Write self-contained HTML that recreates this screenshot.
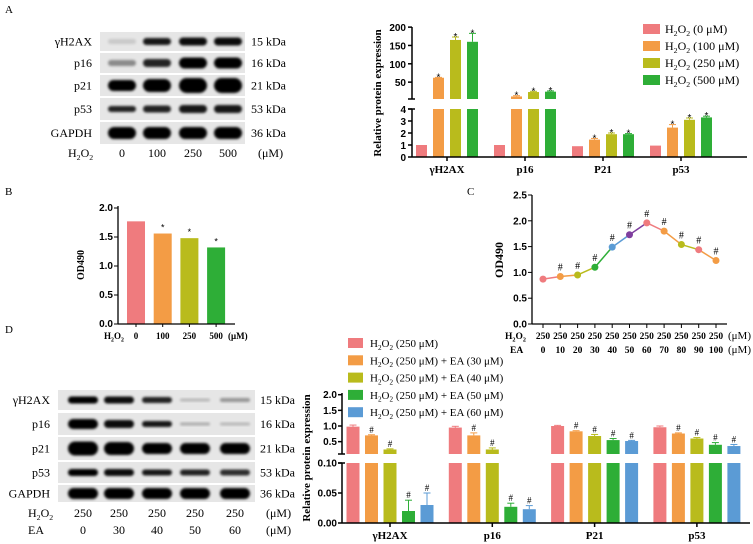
<!DOCTYPE html>
<html><head><meta charset="utf-8"><style>
body{margin:0;background:#fff;}
svg{display:block;}
.serif{font-family:"Liberation Serif",serif;}
.tick{font-family:"Liberation Sans",sans-serif;font-weight:bold;font-size:10px;}
</style></head><body>
<svg id="fig" width="753" height="544" viewBox="0 0 753 544" xmlns="http://www.w3.org/2000/svg">
<defs><filter id="blur" x="-20%" y="-50%" width="140%" height="200%"><feGaussianBlur stdDeviation="1.3"/></filter></defs>
<text x="5" y="13" class="serif" font-size="11">A</text>
<text x="5" y="195" class="serif" font-size="11">B</text>
<text x="467" y="195" class="serif" font-size="11">C</text>
<text x="5" y="333" class="serif" font-size="11">D</text>
</svg>
<script>
const NS='http://www.w3.org/2000/svg';
const svg=document.getElementById('fig');
const COL=['#ef7b7e','#f39c45','#b9bb1c','#2eae37','#5b9bd5','#7f3f9f'];

// ---------- data ----------
const catsA=['γH2AX','p16','P21','p53'];
const aH0=[1,1,0.9,0.95];
const aH100=[62,11,1.45,2.45];
const aH250=[165,23,1.9,3.1];
const aH500=[160,24,1.9,3.3];
const aErr100=[1,2,0.1,0.25];
const aErr250=[8,2,0.1,0.15];
const aErr500=[23,2,0.05,0.1];
const ticksAlow=[0,1,2,3,4];
const ticksAup=[50,100,150,200];

const catsB=['0','100','250','500'];
const valsB=[1.77,1.56,1.48,1.32];
const ticksB=[0,0.5,1.0,1.5,2.0];

const h2o2C=['250','250','250','250','250','250','250','250','250','250','250'];
const eaC=['0','10','20','30','40','50','60','70','80','90','100'];
const valsC=[0.87,0.92,0.95,1.1,1.49,1.73,1.96,1.8,1.54,1.44,1.23];
const ticksC=[0,0.5,1.0,1.5,2.0,2.5];

const catsD=['γH2AX','p16','P21','p53'];
const dEA0=[0.98,0.95,1.0,0.96];
const dEA30=[0.7,0.7,0.83,0.76];
const dEA40=[0.25,0.25,0.68,0.6];
const dEA50=[0.02,0.027,0.55,0.4];
const dEA60=[0.03,0.023,0.52,0.36];
const dErr0=[0.05,0.04,0.02,0.04];
const dErr30=[0.02,0.08,0.02,0.02];
const dErr40=[0.02,0.05,0.05,0.03];
const dErr50=[0.018,0.006,0.05,0.07];
const dErr60=[0.02,0.006,0.02,0.05];
const ticksDup=[0.5,1.0,1.5,2.0];
const ticksDlow=[0,0.05,0.10];

function mk(parent,tag,attrs,name,inter){
  const el=document.createElementNS(NS,tag);
  for(const k in attrs) el.setAttribute(k,attrs[k]);
  
  
  parent.appendChild(el);return el;
}
function txt(parent,x,y,s,attrs,name){const t=mk(parent,'text',Object.assign({x:x,y:y},attrs),name);t.textContent=s;return t;}
function h2o2(parent,x,y,suffix,fs,anchor,name,bold){
  const t=mk(parent,'text',{x:x,y:y,'font-size':fs,'text-anchor':anchor||'start','class':'serif','font-weight':bold?'bold':'normal'},name);
  t.appendChild(document.createTextNode('H'));
  const s1=document.createElementNS(NS,'tspan');s1.setAttribute('font-size',fs*0.65);s1.setAttribute('dy',fs*0.25);s1.textContent='2';t.appendChild(s1);
  const s2=document.createElementNS(NS,'tspan');s2.setAttribute('dy',-fs*0.25);s2.textContent='O';t.appendChild(s2);
  const s3=document.createElementNS(NS,'tspan');s3.setAttribute('font-size',fs*0.65);s3.setAttribute('dy',fs*0.25);s3.textContent='2';t.appendChild(s3);
  const s4=document.createElementNS(NS,'tspan');s4.setAttribute('dy',-fs*0.25);s4.textContent=suffix;t.appendChild(s4);
  return t;
}
function line(p,x1,y1,x2,y2,name,w){return mk(p,'line',{x1:x1,y1:y1,x2:x2,y2:y2,stroke:'#000','stroke-width':w||1.5},name);}

// ---------- blots ----------
function blot(g,rows,lanes,x0,x1,bw,name){
  rows.forEach((r,ri)=>{
    mk(g,'rect',{x:x0,y:r.y0,width:x1-x0,height:r.y1-r.y0,fill:'#e6e6e6'},name+'-row-'+r.label);
    const cy=(r.y0+r.y1)/2;
    lanes.forEach((lx,li)=>{
      const h=r.h[li];
      mk(g,'rect',{x:lx-bw/2,y:cy-h/2,width:bw,height:h,rx:h/2,fill:'#000',opacity:r.op[li],filter:'url(#blur)'},name+'-band');
    });
  });
}
const gBA=mk(svg,'g',{},'blot-a');
const rowsA=[
 {label:'γH2AX',kd:'15 kDa',y0:32,y1:51,h:[5,7,8,8],op:[0.12,0.9,0.95,0.95]},
 {label:'p16',kd:'16 kDa',y0:53,y1:73,h:[6,8,11,11],op:[0.4,0.85,1,1]},
 {label:'p21',kd:'21 kDa',y0:75,y1:96,h:[11,13,15,15],op:[1,1,1,1]},
 {label:'p53',kd:'53 kDa',y0:98,y1:120,h:[6,7,8,8],op:[0.85,0.85,0.9,0.9]},
 {label:'GAPDH',kd:'36 kDa',y0:122,y1:144,h:[12,12,12,12],op:[1,1,1,1]}];
const lanesA=[122,157,193,228];
blot(gBA,rowsA,lanesA,100,245,28,'blot-a');
rowsA.forEach(r=>{const cy=(r.y0+r.y1)/2+4;
  txt(gBA,92,cy,r.label,{'class':'serif','font-size':12,'text-anchor':'end'},'blot-a-label');
  txt(gBA,251,cy,r.kd,{'class':'serif','font-size':12},'blot-a-kda');});
h2o2(gBA,68,157,'',12,'start','blot-a-h2o2-label');
['0','100','250','500'].forEach((s,i)=>txt(gBA,lanesA[i],157,s,{'class':'serif','font-size':12,'text-anchor':'middle'},'blot-a-dose'));
txt(gBA,258,157,'(μM)',{'class':'serif','font-size':12},'blot-a-unit');

const gBD=mk(svg,'g',{},'blot-d');
const rowsD=[
 {label:'γH2AX',kd:'15 kDa',y0:390,y1:410,h:[7,7,6,3,4],op:[1,0.95,0.85,0.2,0.35]},
 {label:'p16',kd:'16 kDa',y0:413,y1:435,h:[10,8,6,3,3],op:[1,0.95,0.9,0.25,0.2]},
 {label:'p21',kd:'21 kDa',y0:437,y1:460,h:[14,13,11,11,11],op:[1,1,1,1,1]},
 {label:'p53',kd:'53 kDa',y0:462,y1:483,h:[7,7,6,6,6],op:[1,0.95,0.9,0.85,0.8]},
 {label:'GAPDH',kd:'36 kDa',y0:485,y1:502,h:[11,11,11,11,11],op:[1,1,1,1,1]}];
const lanesD=[83,119,157,195,235];
blot(gBD,rowsD,lanesD,58,255,30,'blot-d');
rowsD.forEach(r=>{const cy=(r.y0+r.y1)/2+4;
  txt(gBD,50,cy,r.label,{'class':'serif','font-size':12,'text-anchor':'end'},'blot-d-label');
  txt(gBD,260,cy,r.kd,{'class':'serif','font-size':12},'blot-d-kda');});
h2o2(gBD,28,517,'',12,'start','blot-d-h2o2-label');
txt(gBD,28,534,'EA',{'class':'serif','font-size':12},'blot-d-ea-label');
['250','250','250','250','250'].forEach((s,i)=>txt(gBD,lanesD[i],517,s,{'class':'serif','font-size':12,'text-anchor':'middle'},'blot-d-h2o2-dose'));
['0','30','40','50','60'].forEach((s,i)=>txt(gBD,lanesD[i],534,s,{'class':'serif','font-size':12,'text-anchor':'middle'},'blot-d-ea-dose'));
txt(gBD,266,517,'(μM)',{'class':'serif','font-size':12},'blot-d-unit');
txt(gBD,266,534,'(μM)',{'class':'serif','font-size':12},'blot-d-unit');

// ---------- chart A ----------
const gA=mk(svg,'g',{},'chart-a');
function yA(v){return v<=4?157-v*12:99-(v-4)*0.3667;}
const seriesA=[aH0,aH100,aH250,aH500];
const errsA=[null,aErr100,aErr250,aErr500];
const xA0=412;
catsA.forEach((c,i)=>{
  const gc=447+i*78;
  seriesA.forEach((s,j)=>{
    const v=s[i];const bx=gc+(j-1.5)*17-5.5;
    if(v>4){
      mk(gA,'rect',{x:bx,y:109,width:11,height:48,fill:COL[j]},'bar-a-'+c+'-'+j);
      mk(gA,'rect',{x:bx,y:yA(v),width:11,height:99-yA(v),fill:COL[j]},'bar-a-'+c+'-'+j+'-upper');
    } else mk(gA,'rect',{x:bx,y:yA(v),width:11,height:157-yA(v),fill:COL[j]},'bar-a-'+c+'-'+j);
    const top=yA(v);
    if(errsA[j]){const et=yA(v+errsA[j][i]);
      mk(gA,'line',{x1:bx+5.5,y1:top,x2:bx+5.5,y2:et,stroke:COL[j],'stroke-width':1},'error-bar-a');
      mk(gA,'line',{x1:bx+2,y1:et,x2:bx+9,y2:et,stroke:COL[j],'stroke-width':1},'error-cap-a');
      txt(gA,bx+5.5,Math.min(top,et)+3,'*',{'text-anchor':'middle','font-size':10,'font-family':'Liberation Sans,sans-serif'},'sig-star-a');}
  });
  line(gA,gc,157,gc,161,'x-tick-a');
  txt(gA,gc,173,c,{'class':'serif','font-size':11,'font-weight':'bold','text-anchor':'middle'},'x-label-a');
});
line(gA,xA0,109,xA0,157,'y-axis-a-lower');line(gA,xA0,27,xA0,99,'y-axis-a-upper');
line(gA,xA0,157,747,157,'x-axis-a');
ticksAlow.forEach(t=>{line(gA,xA0-4,yA(t),xA0,yA(t),'y-tick-a');txt(gA,xA0-6,yA(t)+4,String(t),{'class':'tick','text-anchor':'end'},'y-tick-label-a');});
ticksAup.forEach(t=>{line(gA,xA0-4,yA(t),xA0,yA(t),'y-tick-a');txt(gA,xA0-6,yA(t)+4,String(t),{'class':'tick','text-anchor':'end'},'y-tick-label-a');});
line(gA,xA0-4,99,xA0+3,99,'axis-break-a');line(gA,xA0-4,109,xA0+3,109,'axis-break-a');
txt(gA,0,0,'Relative protein expression',{'class':'serif','font-size':11,'font-weight':'bold','text-anchor':'middle',transform:'translate(381,93) rotate(-90)'},'y-axis-title-a');
['0 μM','100 μM','250 μM','500 μM'].forEach((s,j)=>{const y=29+j*17;
  mk(gA,'rect',{x:643,y:y-5,width:17,height:10,fill:COL[j]},'legend-swatch-a');
  h2o2(gA,665,y+4,' ('+s+')',12,'start','legend-entry-a');});

// ---------- chart B ----------
const gB=mk(svg,'g',{},'chart-b');
function yB(v){return 324-v*58;}
valsB.forEach((v,i)=>{const cx=136+i*26.7;
  mk(gB,'rect',{x:cx-9,y:yB(v),width:18,height:324-yB(v),fill:COL[i]},'bar-b-'+catsB[i]);
  if(i>0) txt(gB,cx,yB(v)-3,'*',{'text-anchor':'middle','font-size':9,'font-family':'Liberation Sans,sans-serif'},'sig-star-b');
  line(gB,cx,324,cx,327,'x-tick-b',1);
  txt(gB,cx,339,catsB[i],{'class':'serif','font-size':9,'font-weight':'bold','text-anchor':'middle'},'x-label-b');});
line(gB,118,206,118,324,'y-axis-b',1.3);line(gB,118,324,235,324,'x-axis-b',1.3);
ticksB.forEach(t=>{line(gB,114,yB(t),118,yB(t),'y-tick-b',1);txt(gB,113,yB(t)+3,t.toFixed(1),{'class':'tick','font-size':9,'text-anchor':'end'},'y-tick-label-b');});
h2o2(gB,104,339,'',9,'start','x-h2o2-label-b',true);
txt(gB,228,339,'(μM)',{'class':'serif','font-size':9,'font-weight':'bold'},'x-unit-b');
txt(gB,0,0,'OD490',{'class':'serif','font-size':10,'font-weight':'bold','text-anchor':'middle',transform:'translate(84,265) rotate(-90)'},'y-axis-title-b');

// ---------- chart C ----------
const gC=mk(svg,'g',{},'chart-c');
function xC(i){return 543+i*17.3;}
function yC(v){return 324-v*51.6;}
const segCol=[0,1,2,3,4,5,0,1,2,1];
const ptCol=[0,1,2,3,4,5,0,1,2,0,1];
for(let i=0;i<valsC.length-1;i++) mk(gC,'line',{x1:xC(i),y1:yC(valsC[i]),x2:xC(i+1),y2:yC(valsC[i+1]),stroke:COL[segCol[i]],'stroke-width':1.5},'line-segment-c');
valsC.forEach((v,i)=>{mk(gC,'circle',{cx:xC(i),cy:yC(v),r:3.5,fill:COL[ptCol[i]]},'point-c');
  if(i>0) txt(gC,xC(i),yC(v)-6,'#',{'text-anchor':'middle','font-size':10,'font-family':'Liberation Serif,serif'},'sig-hash-c');
  line(gC,xC(i),324,xC(i),328,'x-tick-c',1);
  txt(gC,xC(i),339,h2o2C[i],{'class':'serif','font-size':9.5,'font-weight':'bold','text-anchor':'middle'},'x-h2o2-dose-c');
  txt(gC,xC(i),353,eaC[i],{'class':'serif','font-size':9.5,'font-weight':'bold','text-anchor':'middle'},'x-ea-dose-c');});
line(gC,532,195,532,324,'y-axis-c',1.3);line(gC,532,324,727,324,'x-axis-c',1.3);
ticksC.forEach(t=>{line(gC,528,yC(t),532,yC(t),'y-tick-c',1);txt(gC,527,yC(t)+3.5,t.toFixed(1),{'class':'tick','text-anchor':'end'},'y-tick-label-c');});
h2o2(gC,505,339,'',9.5,'start','x-h2o2-label-c',true);
txt(gC,510,353,'EA',{'class':'serif','font-size':9.5,'font-weight':'bold'},'x-ea-label-c');
txt(gC,728,339,'(μM)',{'class':'serif','font-size':11},'x-unit-c');
txt(gC,728,353,'(μM)',{'class':'serif','font-size':11},'x-unit-c');
txt(gC,0,0,'OD490',{'class':'serif','font-size':12,'font-weight':'bold','text-anchor':'middle',transform:'translate(503,260) rotate(-90)'},'y-axis-title-c');

// ---------- chart D ----------
const gD=mk(svg,'g',{},'chart-d');
function yDu(v){return Math.min(454,426-(v-1)*31.3);}
function yDl(v){return 523-Math.min(v,0.1)*600;}
const seriesD=[dEA0,dEA30,dEA40,dEA50,dEA60];
const errsD=[dErr0,dErr30,dErr40,dErr50,dErr60];
catsD.forEach((c,i)=>{
  const gc=390+i*102.3;
  seriesD.forEach((s,j)=>{
    const v=s[i];const bx=gc+(j-2)*18.5-6.5;let top,et;
    if(v>0.1){
      mk(gD,'rect',{x:bx,y:463,width:13,height:60,fill:COL[j]},'bar-d-'+c+'-'+j);
      top=yDu(v);et=yDu(v+errsD[j][i]);
      mk(gD,'rect',{x:bx,y:top,width:13,height:454-top,fill:COL[j]},'bar-d-'+c+'-'+j+'-upper');
    } else {top=yDl(v);et=yDl(v+errsD[j][i]);
      mk(gD,'rect',{x:bx,y:top,width:13,height:523-top,fill:COL[j]},'bar-d-'+c+'-'+j);}
    mk(gD,'line',{x1:bx+6.5,y1:top,x2:bx+6.5,y2:et,stroke:COL[j],'stroke-width':1},'error-bar-d');
    mk(gD,'line',{x1:bx+3,y1:et,x2:bx+10,y2:et,stroke:COL[j],'stroke-width':1},'error-cap-d');
    if(j>0) txt(gD,bx+6.5,et-2,'#',{'text-anchor':'middle','font-size':9,'font-family':'Liberation Serif,serif'},'sig-hash-d');
  });
  line(gD,gc,523,gc,527,'x-tick-d');
  txt(gD,gc,539,c,{'class':'serif','font-size':11,'font-weight':'bold','text-anchor':'middle'},'x-label-d');
});
line(gD,342,393,342,454,'y-axis-d-upper');line(gD,342,463,342,523,'y-axis-d-lower');
line(gD,342,523,750,523,'x-axis-d');
ticksDup.forEach(t=>{line(gD,338,yDu(t),342,yDu(t),'y-tick-d');txt(gD,337,yDu(t)+3.5,t.toFixed(1),{'class':'tick','text-anchor':'end'},'y-tick-label-d');});
ticksDlow.forEach(t=>{line(gD,338,yDl(t),342,yDl(t),'y-tick-d');txt(gD,337,yDl(t)+3.5,t.toFixed(2),{'class':'tick','text-anchor':'end'},'y-tick-label-d');});
line(gD,338,454,345,454,'axis-break-d');line(gD,338,463,345,463,'axis-break-d');
txt(gD,0,0,'Relative protein expression',{'class':'serif','font-size':11,'font-weight':'bold','text-anchor':'middle',transform:'translate(310,458) rotate(-90)'},'y-axis-title-d');
['',' + EA (30 μM)',' + EA (40 μM)',' + EA (50 μM)',' + EA (60 μM)'].forEach((s,j)=>{const y=343+j*17.3;
  mk(gD,'rect',{x:348,y:y-5,width:15,height:10,fill:COL[j]},'legend-swatch-d');
  h2o2(gD,370,y+4,' (250 μM)'+s,11,'start','legend-entry-d');});
</script>
</body></html>
